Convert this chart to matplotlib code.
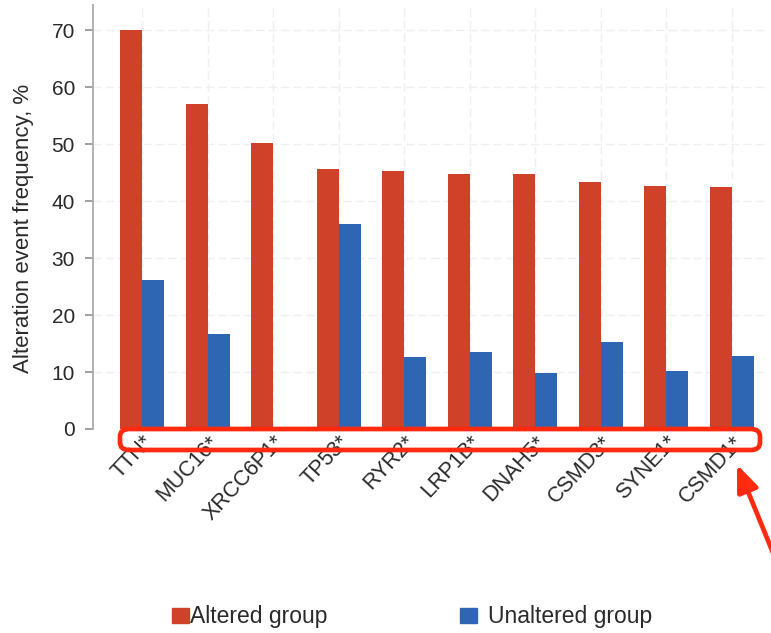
import numpy as np
import matplotlib.pyplot as plt
from matplotlib.patches import FancyBboxPatch, Patch
from matplotlib.transforms import offset_copy

plt.rcParams['font.family'] = ['Liberation Sans', 'DejaVu Sans']

genes = ['TTN*', 'MUC16*', 'XRCC6P1*', 'TP53*', 'RYR2*', 'LRP1B*', 'DNAH5*', 'CSMD3*', 'SYNE1*', 'CSMD1*']
altered = [70.0, 57.0, 50.1, 45.7, 45.3, 44.8, 44.8, 43.3, 42.6, 42.4]
unaltered = [26.1, 16.7, 0.0, 35.9, 12.7, 13.5, 9.9, 15.3, 10.2, 12.8]

red = '#d0412a'
blue = '#2f66b3'
txt = '#2a2a2a'

fig = plt.figure(figsize=(7.71, 6.33), dpi=100)
ax = fig.add_axes([93/771, 1-429/633, (765-93)/771, 424/633])

x = np.arange(len(genes))
w = 0.335
ax.bar(x - w/2, altered, w, color=red, zorder=3)
ax.bar(x + w/2, unaltered, w, color=blue, zorder=3)

ax.set_xlim(-0.75, 9.51)
ax.set_ylim(0, 74.4)
ax.set_yticks(range(0, 71, 10))
ax.set_xticks(x)
ax.set_xticklabels(genes, rotation=47, ha='right', rotation_mode='anchor', fontsize=15.5, color=txt)
for lbl in ax.get_xticklabels():
    lbl.set_transform(offset_copy(lbl.get_transform(), fig=fig, x=2.5, y=-3, units='points'))
ax.tick_params(axis='x', length=0, pad=2)
ax.tick_params(axis='y', labelsize=15, colors='#999999', labelcolor=txt, length=6, width=1.3, pad=7)

ax.grid(True, color='#eceff3', linestyle=(0, (6, 3)), linewidth=1.0, zorder=0)
for s in ['top', 'right', 'bottom']:
    ax.spines[s].set_visible(False)
ax.spines['left'].set_color('#aaaaaa')
ax.spines['left'].set_linewidth(1.3)

fig.text(24/771, 1-228/633, 'Alteration event frequency, %', rotation=90,
         ha='center', va='center', fontsize=16, color=txt)

# red highlight box round the tick labels
box = FancyBboxPatch((120/771, 1-450/633), (760-120)/771, 21/633,
                     boxstyle='round,pad=0,rounding_size=0.012',
                     transform=fig.transFigure, fill=False, edgecolor='#ff2a10', linewidth=3.4)
fig.add_artist(box)

ax.annotate('', xy=(736, 633-462), xycoords='figure pixels',
            xytext=(780, 633-570), textcoords='figure pixels',
            arrowprops=dict(arrowstyle='-|>,head_length=1.6,head_width=0.65', color='#ff2a10', lw=3.4),
            annotation_clip=False)

fig.legend(handles=[Patch(color=red, label='Altered group')], loc='center left',
           bbox_to_anchor=(172/771, 1-617/633), frameon=False, fontsize=16.5,
           handlelength=0.75, handleheight=0.65, handletextpad=0.05,
           borderpad=0, borderaxespad=0, labelcolor=txt)
fig.legend(handles=[Patch(color=blue, label='Unaltered group')], loc='center left',
           bbox_to_anchor=(460/771, 1-617/633), frameon=False, fontsize=16.5,
           handlelength=0.75, handleheight=0.65, handletextpad=0.45,
           borderpad=0, borderaxespad=0, labelcolor=txt)

fig.savefig('out.png', dpi=100)
